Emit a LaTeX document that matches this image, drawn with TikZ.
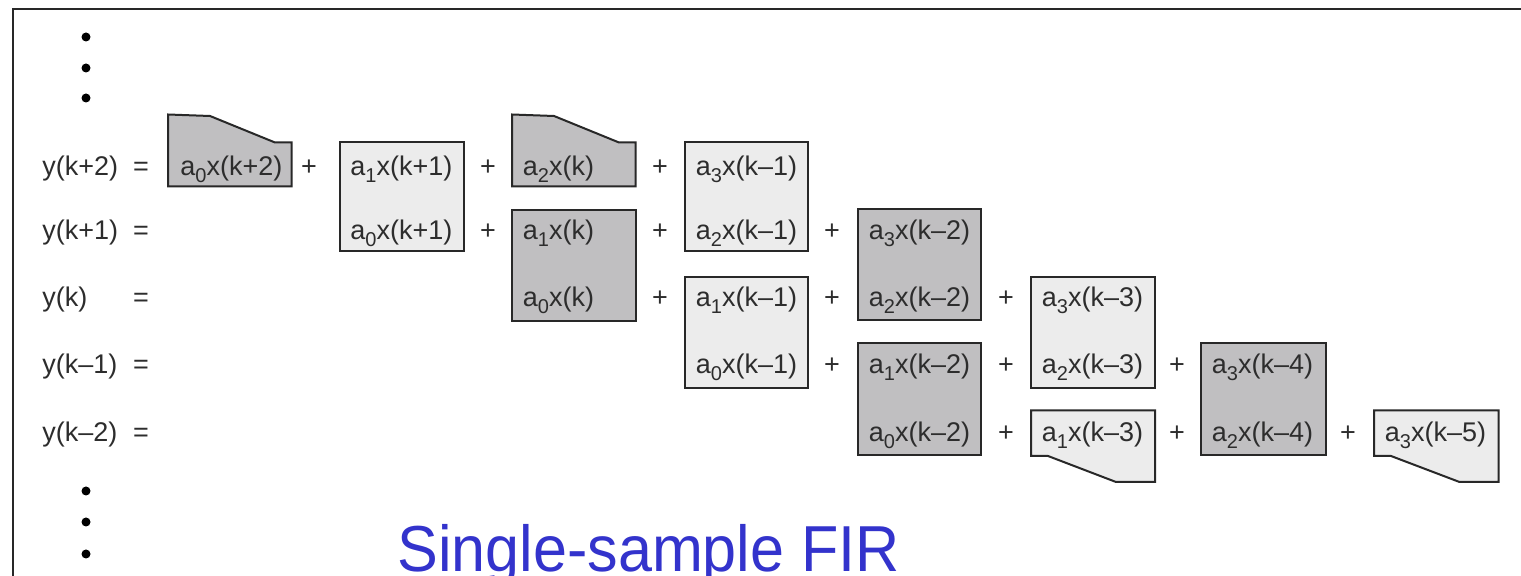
\documentclass[tikz,border=0pt]{standalone}
\usepackage{fontspec}
\setmainfont{Liberation Sans}
\definecolor{darkfill}{RGB}{192,191,193}
\definecolor{lightfill}{RGB}{236,236,236}
\definecolor{edge}{RGB}{40,40,40}
\definecolor{txt}{RGB}{45,45,45}
\definecolor{titleblue}{RGB}{51,51,204}
\newcommand\sbs[1]{\raisebox{-3.3pt}{\fontsize{10}{10}\selectfont #1}}
\begin{document}
\begin{tikzpicture}[x=0.5pt,y=-0.5pt,
  dbox/.style={fill=darkfill,draw=edge,line width=1pt,line join=miter},
  lbox/.style={fill=lightfill,draw=edge,line width=1pt,line join=miter},
  term/.style={anchor=base west,inner sep=0pt,font=\fontsize{13.5}{16}\selectfont,text=txt},
  plus/.style={anchor=base,inner sep=0pt,font=\fontsize{13.5}{16}\selectfont,text=txt},
  lbl/.style={anchor=base west,inner sep=0pt,font=\fontsize{13.5}{16}\selectfont,text=txt},
  eqs/.style={anchor=base,inner sep=0pt,font=\fontsize{13.5}{16}\selectfont,text=txt},
  frame/.style={draw=edge,line width=1.25pt},
  dotmark/.style={fill=black}]
\clip (0,0) rectangle (1521,576);
\fill[white] (0,0) rectangle (1521,576);
% frame
\draw[frame] (13,580) -- (13,9) -- (1525,9);
% dots
\foreach \yy in {37,68,98,491,522,554} \fill[dotmark] (86,\yy) circle (4.5);
% boxes
\draw[dbox] (168,186.5) -- (168,114.5) -- (210,116) -- (275,142.5) -- (291.5,142.5) -- (291.5,186.5) -- cycle;
\draw[dbox] (512,186.5) -- (512,114.5) -- (554,116) -- (619,142.5) -- (635.5,142.5) -- (635.5,186.5) -- cycle;
\draw[lbox] (339.5,142.5) rectangle (463.5,251.5);
\draw[lbox] (685,142.5) rectangle (808,251.5);
\draw[dbox] (512,210) rectangle (635.5,321);
\draw[dbox] (858,209) rectangle (981,320);
\draw[lbox] (685,277) rectangle (808,388);
\draw[lbox] (1031,277) rectangle (1155,388);
\draw[dbox] (858,343.5) rectangle (981,455);
\draw[dbox] (1201,343.5) rectangle (1325.5,455);
\draw[lbox] (1031,410.5) -- (1155,410.5) -- (1155,482) -- (1116,482) -- (1048,456) -- (1031,456) -- cycle;
\draw[lbox] (1374,410.5) -- (1498.5,410.5) -- (1498.5,482) -- (1459.5,482) -- (1391,456) -- (1374,456) -- cycle;
% row labels
\node[lbl] (y0) at (42,175.5) {y(k+2)};
\node[lbl] (y1) at (42,239.5) {y(k+1)};
\node[lbl] (y2) at (42,306.5) {y(k)};
\node[lbl] (y3) at (42,373.5) {y(k–1)};
\node[lbl] (y4) at (42,441.5) {y(k–2)};
\foreach \r/\yb in {0/175.5,1/239.5,2/306.5,3/373.5,4/441.5}
  \node[eqs] (eq\r) at (141,\yb) {=};
% row 0
\node[term] (t00) at (180,175.5) {a\sbs{0}x(k+2)};
\node[term] (t01) at (350,175.5) {a\sbs{1}x(k+1)};
\node[term] (t02) at (522.5,175.5) {a\sbs{2}x(k)};
\node[term] (t03) at (695.5,175.5) {a\sbs{3}x(k–1)};
\node[plus] (p01) at (309,175.5) {+};
\node[plus] (p02) at (488,175.5) {+};
\node[plus] (p03) at (660,175.5) {+};
% row 1
\node[term] (t11) at (350,239.5) {a\sbs{0}x(k+1)};
\node[term] (t12) at (522.5,239.5) {a\sbs{1}x(k)};
\node[term] (t13) at (695.5,239.5) {a\sbs{2}x(k–1)};
\node[term] (t14) at (868.5,239.5) {a\sbs{3}x(k–2)};
\node[plus] (p12) at (488,239.5) {+};
\node[plus] (p13) at (660,239.5) {+};
\node[plus] (p14) at (832,239.5) {+};
% row 2
\node[term] (t22) at (522.5,306.5) {a\sbs{0}x(k)};
\node[term] (t23) at (695.5,306.5) {a\sbs{1}x(k–1)};
\node[term] (t24) at (868.5,306.5) {a\sbs{2}x(k–2)};
\node[term] (t25) at (1041.5,306.5) {a\sbs{3}x(k–3)};
\node[plus] (p23) at (660,306.5) {+};
\node[plus] (p24) at (832,306.5) {+};
\node[plus] (p25) at (1006,306.5) {+};
% row 3
\node[term] (t33) at (695.5,373.5) {a\sbs{0}x(k–1)};
\node[term] (t34) at (868.5,373.5) {a\sbs{1}x(k–2)};
\node[term] (t35) at (1041.5,373.5) {a\sbs{2}x(k–3)};
\node[term] (t36) at (1211.5,373.5) {a\sbs{3}x(k–4)};
\node[plus] (p34) at (832,373.5) {+};
\node[plus] (p35) at (1006,373.5) {+};
\node[plus] (p36) at (1177,373.5) {+};
% row 4
\node[term] (t44) at (868.5,441.5) {a\sbs{0}x(k–2)};
\node[term] (t45) at (1041.5,441.5) {a\sbs{1}x(k–3)};
\node[term] (t46) at (1211.5,441.5) {a\sbs{2}x(k–4)};
\node[term] (t47) at (1384.5,441.5) {a\sbs{3}x(k–5)};
\node[plus] (p45) at (1006,441.5) {+};
\node[plus] (p46) at (1177,441.5) {+};
\node[plus] (p47) at (1348,441.5) {+};
% title
\node[anchor=base west,inner sep=0pt,text=titleblue,font=\fontsize{32.5}{36}\selectfont] (title) at (397,571.5) {\scalebox{0.94}[1]{Single-sample FIR}};
\end{tikzpicture}
\end{document}
